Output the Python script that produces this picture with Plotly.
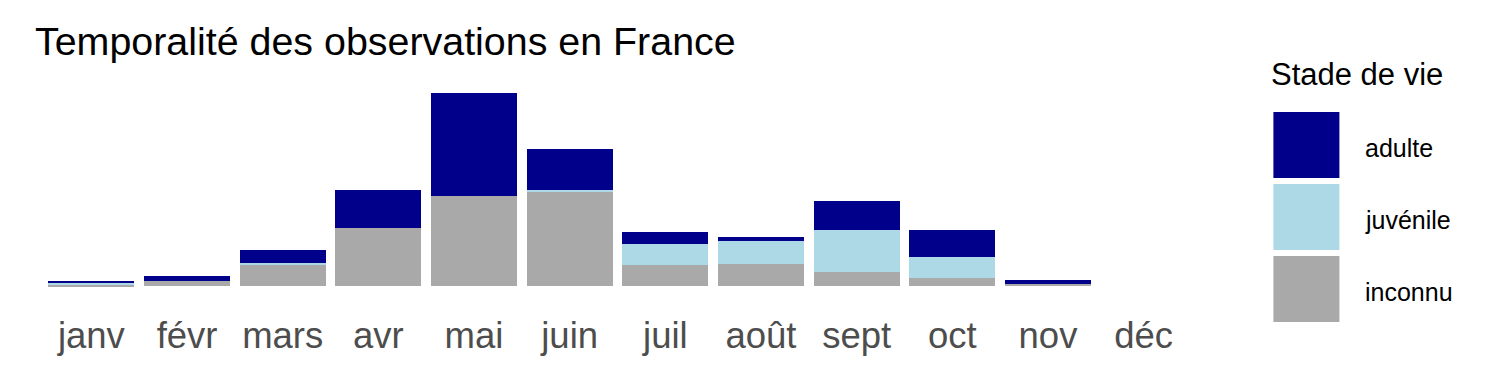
import plotly.graph_objects as go

months = ["janv", "févr", "mars", "avr", "mai", "juin", "juil", "août", "sept", "oct", "nov", "déc"]
inconnu = [1.7, 5.7, 21.7, 58, 89.7, 94, 21.7, 22, 14.7, 8.7, 2, 0]
juvenile = [2, 0, 2, 0, 0, 1.7, 20, 23, 41, 20, 0, 0]
adulte = [2, 5, 12, 37.7, 103, 41, 12, 4, 29, 27, 4, 0]

series = [("inconnu", inconnu, "#A9A9A9"), ("juvénile", juvenile, "#ADD8E6"), ("adulte", adulte, "#00008B")]

W, H = 1500, 375
L, R, T, B = 33.6, 299.4, 83, 79
FONT = "Liberation Sans, Arial, sans-serif"

fig = go.Figure()
for name, vals, col in series:
    fig.add_trace(go.Bar(x=months, y=vals, name=name, marker=dict(color=col, line=dict(width=0)),
                         showlegend=False))

ymax = max(a + b + c for a, b, c in zip(inconnu, juvenile, adulte))
fig.update_layout(
    width=W, height=H, barmode="stack", bargap=0.1,
    margin=dict(l=L, r=R, t=T, b=B, autoexpand=False),
    plot_bgcolor="white", paper_bgcolor="white",
    font=dict(family=FONT),
    title=dict(text="Temporalité des observations en France", x=35 / W, xanchor="left",
               y=1 - 41 / H, yanchor="middle", yref="container",
               font=dict(size=39.4, color="black", family=FONT)),
    xaxis=dict(range=[-0.6, 11.6], showgrid=False, zeroline=False, showline=False,
               ticks="outside", ticklen=7, tickcolor="rgba(0,0,0,0)",
               tickfont=dict(size=36.5, color="#4D4D4D", family=FONT)),
    yaxis=dict(range=[-0.05 * ymax, 1.05 * ymax], showgrid=False, zeroline=False,
               showline=False, showticklabels=False, ticks=""),
)

pw, ph = W - L - R, H - T - B
def px2x(px):
    return (px - L) / pw
def py2y(py):
    return (H - B - py) / ph

# legend
fig.add_annotation(text="Stade de vie", xref="paper", yref="paper", x=px2x(1269), y=py2y(74),
                   xanchor="left", yanchor="middle", showarrow=False,
                   font=dict(size=31, color="black", family=FONT))
key_tops = [112, 184, 256]
for (name, vals, col), top in zip(reversed(series), key_tops):
    fig.add_shape(type="rect", xref="paper", yref="paper",
                  x0=px2x(1273), x1=px2x(1339), y0=py2y(top), y1=py2y(top + 66),
                  fillcolor=col, line=dict(width=0))
    fig.add_annotation(text=name, xref="paper", yref="paper", x=px2x(1363), y=py2y(top + 36),
                       xanchor="left", yanchor="middle", showarrow=False,
                       font=dict(size=25, color="black", family=FONT))

fig.write_html("out.html")
